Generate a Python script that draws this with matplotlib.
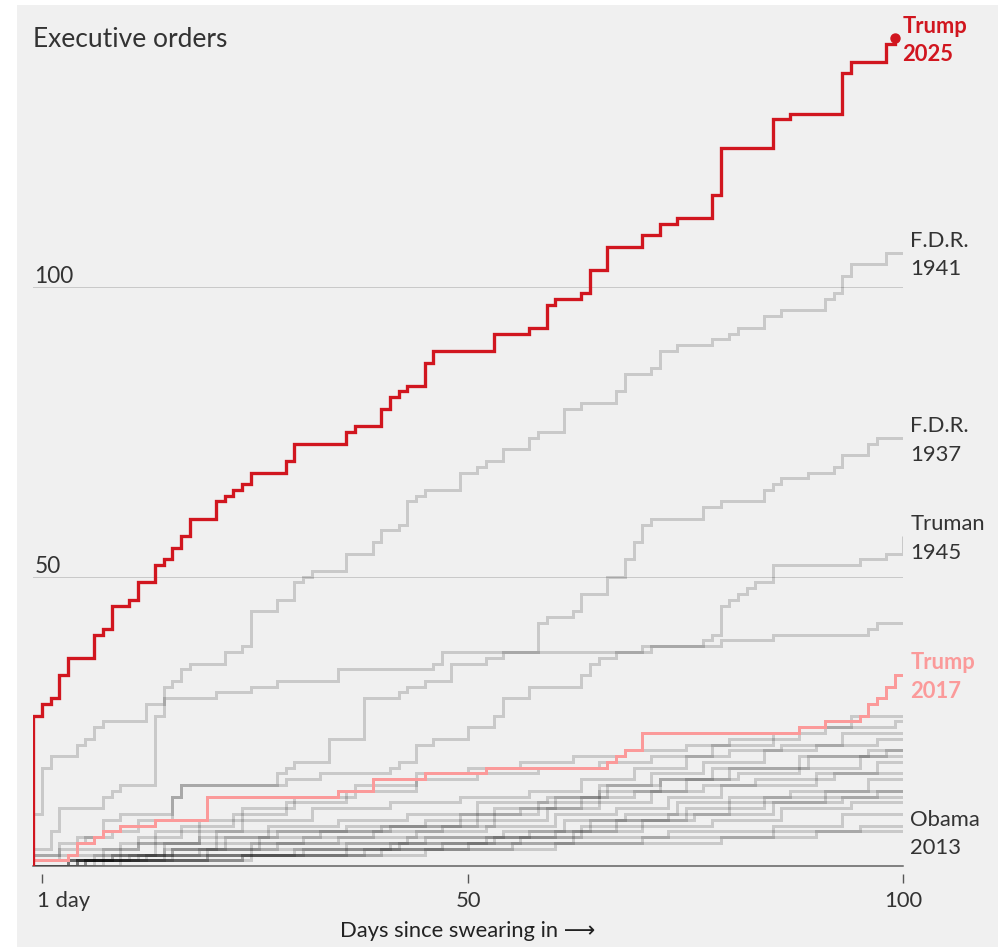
import matplotlib
matplotlib.use('Agg')
import matplotlib.pyplot as plt
from matplotlib.patches import Rectangle

W, H, DPI = 1005, 947, 100

# ---------------- data (day since swearing in -> cumulative executive orders) -------------
trump2025_days = [0, 0, 1, 2, 3, 4, 7, 8, 9, 11, 12, 14, 15, 16, 17, 18, 21, 22, 23, 24, 25, 29, 30,
                  36, 37, 40, 41, 42, 43, 45, 46, 53, 57, 59, 60, 63, 64, 66, 70, 72, 74, 78, 79,
                  85, 87, 93, 94, 98, 99]
trump2025_vals = [0, 26, 28, 29, 33, 36, 40, 41, 45, 46, 49, 52, 53, 55, 57, 60, 63, 64, 65, 66, 68, 70, 73,
                  75, 76, 79, 81, 82, 83, 87, 89, 92, 93, 97, 98, 99, 103, 107, 109, 111, 112, 116, 124,
                  129, 130, 137, 139, 142, 143]

fdr1941_days = [0, 1, 2, 5, 6, 7, 8, 13, 15, 16, 17, 18, 22, 24, 25, 28, 30, 31, 32, 36, 39, 40, 42, 43,
                44, 45, 49, 51, 52, 54, 57, 58, 61, 63, 67, 68, 71, 72, 74, 78, 80, 81, 84, 86, 91, 92,
                93, 94, 98]
fdr1941_vals = [9, 17, 19, 21, 22, 24, 25, 28, 31, 32, 34, 35, 37, 38, 44, 46, 49, 50, 51, 54, 56, 58, 59, 63,
                64, 65, 68, 69, 70, 72, 74, 75, 79, 80, 82, 85, 86, 89, 90, 91, 92, 93, 95, 96, 98, 99,
                102, 104, 106]

fdr1937_days = [0, 2, 3, 8, 9, 10, 14, 15, 21, 25, 28, 35, 46, 47, 58, 59, 62, 63, 66, 68, 69, 70, 71, 77,
                79, 84, 85, 86, 89, 92, 93, 96, 97]
fdr1937_vals = [3, 6, 10, 12, 13, 14, 26, 29, 30, 31, 32, 34, 35, 37, 42, 43, 44, 47, 50, 53, 56, 59, 60, 62,
                63, 65, 66, 67, 68, 69, 71, 73, 74]

truman1945_days = [0, 3, 6, 9, 12, 16, 17, 29, 33, 41, 42, 44, 46, 50, 53, 54, 57, 63, 64, 65, 67, 70, 77,
                   78, 79, 80, 81, 82, 83, 85, 95, 98, 100]
truman1945_vals = [2, 4, 5, 6, 8, 12, 14, 15, 16, 17, 18, 21, 22, 24, 26, 29, 31, 33, 35, 36, 37, 38, 39,
                   40, 45, 46, 47, 48, 49, 52, 53, 54, 57]

other42_days = [0, 3, 5, 8, 10, 16, 17, 28, 29, 30, 34, 38, 42, 43, 45, 48, 52, 54, 71, 79, 85, 96, 97]
other42_vals = [1, 3, 5, 8, 9, 12, 14, 16, 17, 18, 22, 29, 30, 31, 32, 35, 36, 37, 38, 39, 40, 41, 42]

trump2017_days = [0, 4, 5, 7, 8, 10, 14, 20, 35, 39, 45, 52, 66, 67, 68, 70, 88, 91, 95, 96, 97, 98, 99]
trump2017_vals = [1, 2, 4, 5, 6, 7, 8, 12, 13, 15, 16, 17, 18, 19, 20, 23, 24, 25, 26, 28, 29, 31, 33]

# the lower bundle of other presidents (Obama 2013 is the lowest labelled one)
low_days = [
    [0, 4, 7, 10, 14, 19, 24, 30, 37, 44, 50, 56, 62, 68, 75, 80, 88, 94],
    [0, 5, 8, 12, 17, 23, 29, 36, 44, 51, 58, 65, 71, 78, 85, 91, 99],
    [0, 4, 9, 14, 19, 24, 32, 41, 49, 57, 63, 69, 75, 80, 86, 93],
    [0, 5, 10, 15, 21, 27, 35, 43, 51, 59, 65, 71, 77, 84, 90, 97],
    [0, 6, 11, 16, 22, 27, 36, 45, 53, 60, 66, 72, 78, 89, 96],
    [0, 4, 9, 16, 21, 26, 33, 41, 49, 56, 63, 69, 75, 81, 88, 95],
    [0, 6, 13, 19, 25, 31, 39, 47, 53, 59, 65, 71, 77, 83, 92, 97],
    [0, 5, 12, 20, 26, 35, 44, 52, 60, 67, 73, 79, 90],
    [0, 7, 16, 25, 36, 45, 54, 61, 68, 74, 80, 87, 96],
    [0, 8, 20, 31, 41, 52, 60, 67, 73, 80, 91],
    [0, 5, 24, 36, 47, 56, 63, 70, 76, 85, 93],
    [0, 15, 30, 42, 53, 62, 70, 78, 86, 94],
    [0, 6, 20, 38, 55, 70, 85, 95],
    [0, 4, 24, 45, 60, 79, 90],
    [0, 4, 15, 28, 43, 57, 64, 75, 84, 97],
    [0, 5, 12, 19, 28, 40, 51, 58, 65, 72, 80, 88, 98],
    [0, 10, 25, 40, 50, 62, 73, 85, 93],
]
low_vals = [
    [0, 1, 2, 4, 6, 8, 10, 12, 14, 16, 17, 18, 19, 20, 21, 22, 24, 26],
    [0, 1, 3, 5, 7, 9, 11, 13, 15, 16, 17, 18, 19, 21, 23, 24, 25],
    [0, 1, 2, 4, 6, 8, 10, 11, 12, 13, 15, 17, 19, 20, 21, 23],
    [0, 1, 2, 4, 6, 7, 8, 9, 11, 12, 14, 16, 18, 20, 21, 22],
    [0, 1, 2, 3, 5, 6, 7, 8, 10, 12, 14, 15, 17, 19, 20],
    [0, 1, 2, 3, 4, 5, 6, 7, 9, 10, 12, 13, 15, 16, 17, 19],
    [0, 1, 2, 3, 4, 5, 6, 7, 8, 10, 11, 13, 14, 15, 16, 18],
    [0, 1, 2, 3, 4, 5, 6, 7, 9, 10, 12, 14, 16],
    [0, 1, 2, 3, 4, 5, 6, 8, 9, 11, 12, 13, 15],
    [0, 1, 2, 3, 4, 5, 6, 8, 9, 11, 13],
    [0, 1, 2, 3, 4, 5, 7, 8, 9, 11, 12],
    [1, 2, 3, 4, 5, 6, 7, 8, 10, 11],
    [0, 1, 2, 3, 4, 5, 6, 7],
    [0, 1, 2, 3, 4, 5, 6],
    [1, 2, 3, 4, 5, 6, 8, 10, 12, 13],
    [2, 3, 4, 5, 6, 7, 9, 11, 13, 15, 17, 19, 20],
    [0, 1, 2, 3, 4, 5, 6, 7, 9],
]
obama2013_index = 13

x_ticks = [1, 50, 100]
x_tick_labels = ['1 day', '50', '100']
y_grid = [50, 100]
y_grid_labels = ['50', '100']

# ---------------- figure ----------------
FONT = ['Lato', 'DejaVu Sans']
plt.rcParams['font.family'] = FONT

fig = plt.figure(figsize=(W / DPI, H / DPI), dpi=DPI, facecolor='white')
fig.patches.append(Rectangle((17 / W, 0), (998 - 17) / W, 1 - 5 / H, transform=fig.transFigure,
                             facecolor='#f0f0f0', edgecolor='none', zorder=-10))

PT = 0.72  # points per pixel at 100 dpi
px_per_unit = 5.788
left_px, right_px, zero_px, top_px = 33.3, 903.2, 866.1, 20
ax = fig.add_axes([left_px / W, 1 - zero_px / H, (right_px - left_px) / W, (zero_px - top_px) / H])
ax.set_facecolor('none')
ax.set_xlim(0, 100)
ax.set_ylim(0, (zero_px - top_px) / px_per_unit)

for s in ['top', 'right', 'left']:
    ax.spines[s].set_visible(False)
ax.spines['bottom'].set_position(('outward', 8 * PT))
ax.spines['bottom'].set_color('none')
ax.set_yticks([])
ax.set_xticks(x_ticks)
ax.set_xticklabels([])
ax.tick_params(axis='x', length=9 * PT, width=1.0, color='#555555', direction='out')

for g in y_grid:
    ax.axhline(g, color='#c9c9c9', lw=1.0 * PT, zorder=1)
ax.axhline(0, color='#5e5e5e', lw=1.5 * PT, zorder=4, clip_on=False)


def stepline(days, vals, end, **kw):
    xs = list(days) + ([end] if end is not None else [])
    ys = list(vals) + ([vals[-1]] if end is not None else [])
    ax.step(xs, ys, where='post', solid_joinstyle='miter', solid_capstyle='butt', **kw)


gray = dict(color='black', alpha=0.16, lw=3.0 * PT, zorder=3)
for d, v in zip(low_days, low_vals):
    stepline(d, v, 100, **gray)
stepline(other42_days, other42_vals, 100, **gray)
stepline(truman1945_days, truman1945_vals, None, **gray)
stepline(fdr1937_days, fdr1937_vals, 100, **gray)
stepline(fdr1941_days, fdr1941_vals, 100, **gray)

PINK = '#fb9a9a'
RED = '#d1161f'
stepline(trump2017_days, trump2017_vals, 100, color=PINK, lw=3.0 * PT, zorder=5)
stepline(trump2025_days, trump2025_vals, None, color=RED, lw=3.3 * PT, zorder=6)
ax.plot([trump2025_days[-1]], [trump2025_vals[-1]], 'o', color=RED, ms=9 * PT, zorder=7, clip_on=False)

# ---------------- labels ----------------
LBL = 15.8
TXT = '#333333'


def end_label(name, year, x, y, color=TXT, weight='normal', dx=7):
    ax.annotate(name, xy=(x, y), xytext=(dx, 5.7), textcoords='offset pixels', ha='left', va='baseline',
                fontsize=LBL, color=color, fontweight=weight, annotation_clip=False)
    ax.annotate(year, xy=(x, y), xytext=(dx, -22.9), textcoords='offset pixels', ha='left', va='baseline',
                fontsize=LBL, color=color, fontweight=weight, annotation_clip=False)


end_label('F.D.R.', '1941', 100, fdr1941_vals[-1])
end_label('F.D.R.', '1937', 100, fdr1937_vals[-1])
end_label('Truman', '1945', 100, truman1945_vals[-1])
end_label('Trump', '2017', 100, trump2017_vals[-1], color=PINK, weight='bold')
end_label('Obama', '2013', 100, low_vals[obama2013_index][-1])
end_label('Trump', '2025', trump2025_days[-1], trump2025_vals[-1], color=RED, weight='bold', dx=8)

fig.text(33 / W, 1 - 47.3 / H, 'Executive orders', fontsize=19, color=TXT, ha='left', va='baseline')
for val, lab in zip(y_grid, y_grid_labels):
    ax.annotate(lab, xy=(0, val), xytext=(1, 4), textcoords='offset pixels', ha='left', va='baseline',
                fontsize=16.3, color=TXT, annotation_clip=False)

for t, lab in zip(x_ticks, x_tick_labels):
    if lab == '1 day':
        ax.annotate(lab, xy=(t, 0), xytext=(-4.5, -41), textcoords='offset pixels', ha='left',
                    va='baseline', fontsize=LBL, color=TXT, annotation_clip=False)
    else:
        ax.annotate(lab, xy=(t, 0), xytext=(0, -41), textcoords='offset pixels', ha='center',
                    va='baseline', fontsize=LBL, color=TXT, annotation_clip=False)

fig.text(468 / W, 1 - 936.7 / H, 'Days since swearing in \u27f6', fontsize=LBL, color='#222222',
         ha='center', va='baseline')

fig.savefig('out.png', dpi=DPI, facecolor='white')
